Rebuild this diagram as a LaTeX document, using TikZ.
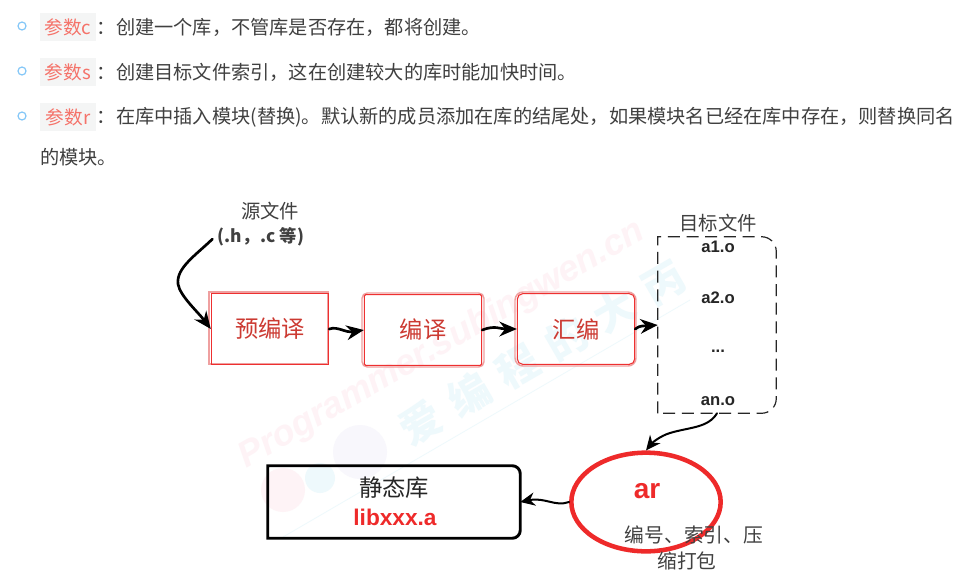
\documentclass[tikz,border=0pt]{standalone}
\usepackage{fontspec}
\setmainfont{Noto Sans CJK SC}
\newfontfamily\latinbold{Liberation Sans}[BoldFont={Liberation Sans Bold}]
\usetikzlibrary{arrows.meta,shapes.geometric,calc}
\definecolor{txt}{HTML}{404040}
\definecolor{chipbg}{HTML}{F4F5F5}
\definecolor{chiptxt}{HTML}{F5736A}
\definecolor{bul}{HTML}{86C8F8}
\definecolor{redbox}{HTML}{EE3030}
\definecolor{pinkbox}{HTML}{EFA0A0}
\definecolor{boxtxt}{HTML}{CC3A32}
\definecolor{arred}{HTML}{EE2A2A}
\definecolor{wmpink}{HTML}{FEF3F6}
\definecolor{wmblue}{HTML}{EEF9FC}
\definecolor{wmlav}{HTML}{F8F7FC}
\tikzset{
  x=0.75pt,y=-0.75pt,
  bodytext/.style={anchor=west,inner sep=0pt,text=txt,font=\fontsize{14.4}{16}\selectfont},
  chip/.style={fill=chipbg,text=chiptxt,inner sep=0pt,minimum width=42pt,minimum height=20.5pt,font=\fontsize{14}{15}\selectfont},
  bullet/.style={circle,draw=bul,line width=0.9pt,minimum size=6pt,inner sep=0pt},
  stage/.style={inner sep=0pt,minimum width=88pt,minimum height=53pt,draw=redbox,line width=0.8pt,text=boxtxt,font=\fontsize{17.5}{20}\selectfont},
  stageshadow/.style={draw=pinkbox,line width=1.1pt},
  flow/.style={line width=2pt,black,-{Stealth[length=13pt,width=11pt]},line cap=round},
  thinflow/.style={line width=1.5pt,black,-{Stealth[length=11pt,width=10pt]},line cap=round},
  small/.style={inner sep=0pt,text=txt,font=\fontsize{14.5}{16}\selectfont},
  fname/.style={inner sep=0pt,text=black!85,font=\latinbold\fontsize{12.5}{14}\selectfont\bfseries},
}
\begin{document}
\begin{tikzpicture}
\useasboundingbox (0,0) rectangle (969,578);
\fill[white] (0,0) rectangle (969,578);
% watermark
\draw[wmblue,line width=0.6pt] (283,537) -- (690,300);
\node[rotate=30,text=wmpink,font=\latinbold\fontsize{27}{30}\selectfont\itshape\bfseries,inner sep=0pt] (wm1) at (442,345) {Programmer.subingwen.cn};
\node[rotate=30,text=wmblue,font=\fontsize{31}{40}\selectfont\bfseries,inner sep=0pt] (wm2) at (542,352) {爱\kern11pt 编\kern11pt 程\kern11pt 的\kern11pt 大\kern11pt 丙};
\fill[wmlav] (360,452) circle (27);
\fill[wmpink] (283,490) circle (22);
\fill[wmblue] (320,478) circle (15);
% list
\foreach \n/\y in {a/26,b/71,c/116}{\node[bullet] (bul\n) at (22,\y) {};}
\node[chip] (chipa) at (68,27) {参数c};
\node[chip] (chipb) at (68,72) {参数s};
\node[chip] (chipc) at (68,117) {参数r};
\node[bodytext] (la) at (96,27) {：\kern0.5pt 创建一个库，不管库是否存在，都将创建。};
\node[bodytext] (lb) at (96,72) {：\kern0.5pt 创建目标文件索引，这在创建较大的库时能加快时间。};
\node[bodytext] (lc) at (96,117) {：\kern0.5pt 在库中插入模块(替换)。默认新的成员添加在库的结尾处，如果模块名已经在库中存在，则替换同名};
\node[bodytext] (ld) at (40,157) {的模块。};
% labels
\node[small] (src1) at (270,211) {源文件};
\node[inner sep=0pt,text=txt,font=\fontsize{13}{15}\selectfont\bfseries] (src2) at (261,237) {(.h，\kern1pt.c 等)};
\node[small] (objt) at (718,223) {目标文件};
% stages
\draw[stageshadow] (209,292) rectangle (328,364);
\node[stage] (pre) at (270,329) {预编译};
\draw[stageshadow,rounded corners=4pt] (362,293) rectangle (484,367);
\node[stage,rounded corners=1pt] (comp) at (423,330) {编译};
\draw[stageshadow,rounded corners=6pt] (515,292) rectangle (636,366);
\node[stage,rounded corners=4pt] (asm) at (576,329) {汇编};
% object files
\node[inner sep=0pt,minimum width=88.5pt,minimum height=132pt] (obj) at (717,325) {};
\draw[black!85,dash pattern=on 9pt off 5pt,line width=0.9pt] (obj.south west) -- (obj.west) -- ([yshift=0pt]obj.north west) [rounded corners=11pt] -- (obj.north east) -- (obj.south east) -- (obj.south west);
\node[fname] (a1) at (718,247) {a1.o};
\node[fname] (a2) at (718,298) {a2.o};
\node[fname] (dots) at (718,351) {...};
\node[fname] (an) at (718,401) {an.o};
% library
\node[inner sep=0pt,minimum width=189pt,minimum height=54pt] (lib) at (394,502) {};
\draw[black,line width=2.2pt] (lib.south west) -- (lib.north west) [rounded corners=6pt] -- (lib.north east) -- (lib.south east) [sharp corners] -- cycle;
\node[inner sep=0pt,text=black!85,font=\fontsize{17.5}{20}\selectfont] (libt) at (394,488) {静态库};
\node[inner sep=0pt,text=arred,font=\latinbold\fontsize{17}{19}\selectfont\bfseries] (libn) at (395,517) {libxxx.a};
% ar
\node[ellipse,draw=arred,line width=3.4pt,minimum width=112pt,minimum height=74pt,inner sep=0pt] (ar) at (646,502) {};
\node[inner sep=0pt,text=arred,font=\latinbold\fontsize{21}{24}\selectfont\bfseries] (art) at (647,491) {ar};
\node[inner sep=0pt,text=txt,font=\fontsize{14.8}{17}\selectfont] (ar1) at (694,535) {编号、索引、压};
\node[inner sep=0pt,text=txt,font=\fontsize{14.8}{17}\selectfont] (ar2) at (687,561) {缩打包};
% connectors
\draw[flow] (src2.west) ++(-5,2) coordinate (s0) (s0) .. controls (196,255) and (176,268) .. (178,284) .. controls (180,296) and (198,312) .. (pre.west);
\draw[flow] (pre.east) .. controls (338,326) and (345,333) .. (comp.west);
\draw[flow] (comp.east) .. controls (495,325) and (500,329) .. (asm.west);
\draw[flow] (asm.east) .. controls (640,325) and (645,326) .. (obj.west);
\draw[thinflow] (obj.south) ++(0,0) coordinate (o0) (o0) .. controls (708,428) and (690,427) .. (670,433) .. controls (660,436) and (652,443) .. (ar.north);
\draw[thinflow] (ar.west) .. controls (555,507) and (545,497) .. (lib.east);
\end{tikzpicture}
\end{document}
